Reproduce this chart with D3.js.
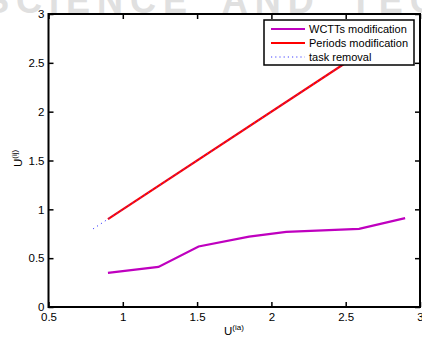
<!DOCTYPE html>
<html>
<head>
<meta charset="utf-8">
<script src="https://cdn.jsdelivr.net/npm/d3@7"></script>
<style>
  html, body { margin: 0; padding: 0; background: #fff; overflow: hidden; }
  svg { display: block; font-family: "Liberation Sans", Arial, sans-serif; }
</style>
</head>
<body>
<div id="chart"></div>
<script>
// values
const wcttX = [0.9, 1.24, 1.51, 1.85, 2.1, 2.59, 2.9];
const wcttY = [0.35, 0.41, 0.62, 0.72, 0.77, 0.80, 0.91];
const periodX = [0.9, 2.9];
const periodY = [0.9, 2.9];
const removalX = [0.8, 0.9, 2.9];
const removalY = [0.8, 0.9, 2.9];
const xTicks = [0.5, 1, 1.5, 2, 2.5, 3];
const yTicks = [0, 0.5, 1, 1.5, 2, 2.5, 3];

const W = 422, H = 338;
const margin = { top: 14, right: 2, bottom: 31, left: 48.5 };

const svg = d3.select("#chart").append("svg")
  .attr("width", W).attr("height", H).attr("viewBox", `0 0 ${W} ${H}`);

// faint watermark behind the figure (top half cut off by the page edge)
svg.append("text")
  .attr("x", -15).attr("y", 13)
  .attr("font-size", 36).attr("font-weight", 700)
  .attr("fill", "#e0e0e0").attr("letter-spacing", 7).attr("word-spacing", 12)
  .text("SCIENCE AND TECHNOLOGY");

const x = d3.scaleLinear().domain([0.5, 3]).range([margin.left, W - margin.right]);
const y = d3.scaleLinear().domain([0, 3]).range([H - margin.bottom, margin.top]);

svg.append("defs").append("clipPath").attr("id", "plot")
  .append("rect").attr("x", x(0.5)).attr("y", y(3))
  .attr("width", x(3) - x(0.5)).attr("height", y(0) - y(3));

// plot background hides the watermark
svg.append("rect").attr("x", x(0.5)).attr("y", y(3))
  .attr("width", x(3) - x(0.5)).attr("height", y(0) - y(3)).attr("fill", "#fff");

const tl = 5;
// bottom / left axes with inward ticks
svg.append("g").attr("transform", `translate(0,${y(0)})`)
  .call(d3.axisBottom(x).tickValues(xTicks).tickSize(-tl).tickPadding(6)
    .tickFormat(d3.format("~g")))
  .call(g => g.select(".domain").remove())
  .call(g => g.selectAll("text").attr("font-size", 11.5).attr("fill", "#000"))
  .call(g => g.selectAll("line").attr("stroke", "#000").attr("stroke-width", 1.5));
svg.append("g").attr("transform", `translate(${x(0.5)},0)`)
  .call(d3.axisLeft(y).tickValues(yTicks).tickSize(-tl).tickPadding(4)
    .tickFormat(d3.format("~g")))
  .call(g => g.select(".domain").remove())
  .call(g => g.selectAll("text").attr("font-size", 11.5).attr("fill", "#000"))
  .call(g => g.selectAll("line").attr("stroke", "#000").attr("stroke-width", 1.5));
// top / right mirrored ticks
svg.append("g").attr("transform", `translate(0,${y(3)})`)
  .call(d3.axisTop(x).tickValues(xTicks).tickSize(-tl).tickFormat(""))
  .call(g => g.select(".domain").remove())
  .call(g => g.selectAll("line").attr("stroke", "#000").attr("stroke-width", 1.5));
svg.append("g").attr("transform", `translate(${x(3)},0)`)
  .call(d3.axisRight(y).tickValues(yTicks).tickSize(-tl).tickFormat(""))
  .call(g => g.select(".domain").remove())
  .call(g => g.selectAll("line").attr("stroke", "#000").attr("stroke-width", 1.5));

const line = d3.line().x(d => x(d[0])).y(d => y(d[1]));
const plot = svg.append("g").attr("clip-path", "url(#plot)");

plot.append("path").datum(periodX.map((v, i) => [v, periodY[i]]))
  .attr("fill", "none").attr("stroke", "#ff0000").attr("stroke-width", 2.2).attr("d", line);
plot.append("path").datum(removalX.map((v, i) => [v, removalY[i]]))
  .attr("fill", "none").attr("stroke", "#4040ff").attr("stroke-width", 1)
  .attr("stroke-dasharray", "1.2,3.5").attr("d", line);
plot.append("path").datum(wcttX.map((v, i) => [v, wcttY[i]]))
  .attr("fill", "none").attr("stroke", "#bf00bf").attr("stroke-width", 2.2).attr("d", line);

// frame
svg.append("rect").attr("x", x(0.5)).attr("y", y(3))
  .attr("width", x(3) - x(0.5)).attr("height", y(0) - y(3))
  .attr("fill", "none").attr("stroke", "#000").attr("stroke-width", 2);

// legend
const leg = svg.append("g").attr("transform", "translate(264,20)");
leg.append("rect").attr("width", 150).attr("height", 45)
  .attr("fill", "#fff").attr("stroke", "#000").attr("stroke-width", 1.5);
const entries = [
  { label: "WCTTs modification", color: "#bf00bf", dash: null, w: 2.2 },
  { label: "Periods modification", color: "#ff0000", dash: null, w: 2.2 },
  { label: "task removal", color: "#4040ff", dash: "1.2,3", w: 1 },
];
entries.forEach((e, i) => {
  const cy = 9 + i * 14;
  leg.append("line").attr("x1", 7).attr("x2", 41).attr("y1", cy).attr("y2", cy)
    .attr("stroke", e.color).attr("stroke-width", e.w)
    .attr("stroke-dasharray", e.dash);
  leg.append("text").attr("x", 45).attr("y", cy + 4)
    .attr("font-size", 11).attr("fill", "#000").text(e.label);
});

// axis titles
const xl = svg.append("text").attr("x", 224).attr("y", 335)
  .attr("font-size", 11.5).attr("fill", "#000");
xl.append("tspan").text("U");
xl.append("tspan").attr("dy", -5).attr("font-size", 8).text("(ia)");

const yl = svg.append("text").attr("transform", "translate(22,167) rotate(-90)")
  .attr("font-size", 11.5).attr("fill", "#000");
yl.append("tspan").text("U");
yl.append("tspan").attr("dy", -5).attr("font-size", 8).text("(ij)");
</script>
</body>
</html>
